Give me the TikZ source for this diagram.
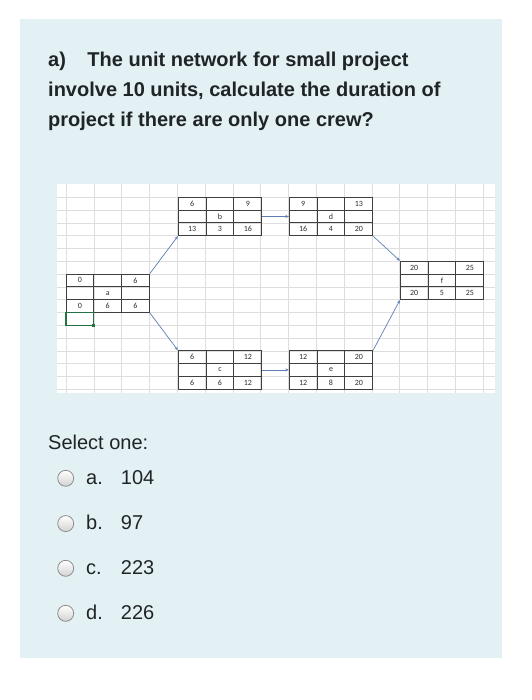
\documentclass[tikz,border=0pt]{standalone}
\usepackage{fontspec}
\setmainfont{Liberation Sans}
\newfontfamily\cellfont{Carlito}
\usetikzlibrary{arrows.meta}
\definecolor{panelblue}{HTML}{E4F1F4}
\definecolor{gridgray}{HTML}{DEDEDE}
\definecolor{boxgray}{HTML}{3F3F3F}
\definecolor{cellgray}{HTML}{2E2E2E}
\definecolor{linkblue}{HTML}{5E7FB5}
\definecolor{selgreen}{HTML}{217346}
\definecolor{inkdark}{HTML}{1F2429}
\definecolor{radiogray}{HTML}{8C8C8C}

\begin{document}
\begin{tikzpicture}[x=1pt, y=-1pt,
actbox/.style={rectangle, draw=boxgray, line width=0.9pt, minimum width=83.4, minimum height=38.4, inner sep=0pt},
boxline/.style={draw=boxgray, line width=0.9pt},
celltext/.style={font=\cellfont\fontsize{8}{9}\selectfont, text=cellgray, inner sep=0pt},
link/.style={draw=linkblue, line width=0.7pt, -{Stealth[length=3.5pt, width=3pt]}},
gridline/.style={draw=gridgray, line width=0.6pt},
qtext/.style={font=\bfseries\fontsize{20}{24}\selectfont, text=inkdark, anchor=base west, inner sep=0pt},
opttext/.style={font=\fontsize{20}{24}\selectfont, text=inkdark, anchor=base west, inner sep=0pt},
radio/.style={circle, draw=radiogray, line width=0.8pt, top color=white, bottom color=gray!35, minimum size=16, inner sep=0pt}]

\useasboundingbox (0,0) rectangle (531,700);
\fill[white] (0,0) rectangle (531,700);
\fill[panelblue] (20,19) rectangle (502,658);

\node[qtext](line1) at (48,66.7){a)\hskip 21.5pt The unit network for small project};
\node[qtext](line2) at (48,96.7){involve 10 units, calculate the duration of};
\node[qtext](line3) at (48,126.7){project if there are only one crew?};

\fill[white] (57,184) rectangle (495,393);
\foreach \k in {0,...,15} \draw[gridline] ({66+\k*27.8},184) -- ({66+\k*27.8},393);
\foreach \k in {0,...,15} \draw[gridline] (57,{197.3+\k*12.8}) -- (495,{197.3+\k*12.8});

\foreach \n/\x/\y/\es/\ef/\ls/\d/\lf in {a/107.7/293.2/0/6/0/6/6, b/220/216.5/6/9/13/3/16, d/331/216.5/9/13/16/4/20, f/442/280.5/20/25/20/5/25, c/220/369.9/6/12/6/6/12, e/331/369.9/12/20/12/8/20}{
\node[actbox](\n) at (\x,\y){};
\draw[boxline]({\x-13.9},{\y-19.2}) -- ({\x-13.9},{\y+19.2});
\draw[boxline]({\x+13.9},{\y-19.2}) -- ({\x+13.9},{\y+19.2});
\draw[boxline]({\x-41.7},{\y-6.4}) -- ({\x+41.7},{\y-6.4});
\draw[boxline]({\x-41.7},{\y+6.4}) -- ({\x+41.7},{\y+6.4});
\node[celltext](\n-es) at ({\x-27.8},{\y-12.8}){\es};
\node[celltext](\n-ef) at ({\x+27.8},{\y-12.8}){\ef};
\node[celltext](\n-name) at (\x,\y){\n};
\node[celltext](\n-ls) at ({\x-27.8},{\y+12.8}){\ls};
\node[celltext](\n-d) at (\x,{\y+12.8}){\d};
\node[celltext](\n-lf) at ({\x+27.8},{\y+12.8}){\lf};
}

\draw[selgreen, line width=1.2pt] (66,312.4) rectangle (93.8,325.2);
\fill[selgreen] (92.3,323.7) rectangle (95.3,326.7);

\draw[link](a.north east) -- (b.south west);
\draw[link](a.south east) -- (c.north west);
\draw[link](b.east) -- (d.west);
\draw[link](c.east) -- (e.west);
\draw[link](d.south east) -- (f.north west);
\draw[link](e.north east) -- (f.south west);

\node[opttext](select) at (48,449){Select one:};

\foreach \l/\v/\yy in {a/104/484, b/97/529.3, c/223/574, d/226/619}{
\node[radio](radio-\l) at (65.7,{\yy-5.7}){};
\node[opttext](opt-\l) at (86,\yy){\l.};
\node[opttext](val-\l) at (120.7,\yy){\v};
}

\end{tikzpicture}
\end{document}
